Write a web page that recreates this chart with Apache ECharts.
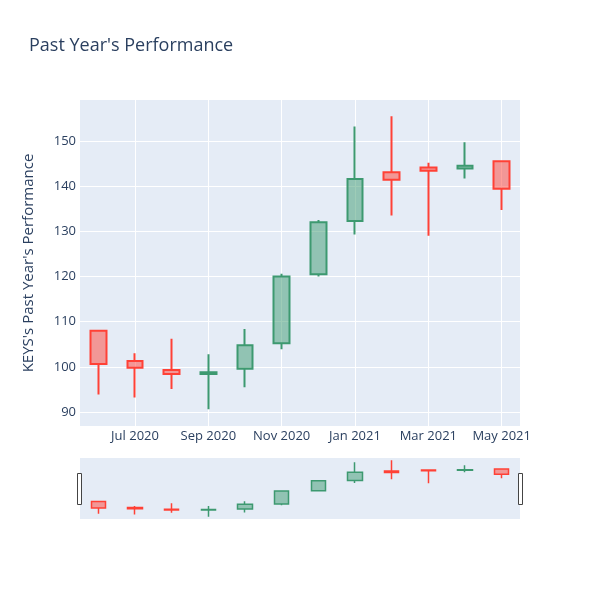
<!DOCTYPE html>
<html>
<head>
<meta charset="utf-8">
<script src="https://cdn.jsdelivr.net/npm/echarts@6/dist/echarts.min.js"></script>
<style>html,body{margin:0;padding:0;background:#fff}#c{width:600px;height:600px}</style>
</head>
<body>
<div id="c"></div>
<script>
const dates = ['2020-06-01','2020-07-01','2020-08-01','2020-09-01','2020-10-01','2020-11-01','2020-12-01','2021-01-01','2021-02-01','2021-03-01','2021-04-01','2021-05-01'];
const openVals  = [108.0, 101.3, 99.3, 98.4, 99.6, 105.2, 120.5, 132.3, 143.1, 144.1, 143.9, 145.5];
const closeVals = [100.6, 99.8, 98.4, 98.8, 104.8, 120.0, 132.0, 141.6, 141.4, 143.4, 144.5, 139.4];
const lowVals   = [93.9, 93.2, 95.1, 90.6, 95.5, 103.9, 120.0, 129.3, 133.5, 129.0, 141.7, 134.7];
const highVals  = [108.0, 103.0, 106.2, 102.8, 108.4, 120.6, 132.5, 153.2, 155.5, 145.2, 149.7, 145.5];
const monthNames = ['Jan','Feb','Mar','Apr','May','Jun','Jul','Aug','Sep','Oct','Nov','Dec'];

const candleData = dates.map((d, i) => [openVals[i], closeVals[i], lowVals[i], highVals[i]]);
const fmt = d => { const p = d.split('-'); return monthNames[+p[1] - 1] + ' ' + p[0]; };
const font = '"Open Sans", verdana, arial, sans-serif';
const txt = '#2a3f5f';
const yMin = 86.9, yMax = 159.07;

const chart = echarts.init(document.getElementById('c'), null, {renderer: 'canvas'});
chart.setOption({
  animation: false,
  backgroundColor: '#fff',
  title: {
    text: "Past Year's Performance", left: 24, top: 32,
    textStyle: {fontFamily: font, fontSize: 18, fontWeight: 'normal', color: txt}
  },
  grid: [
    {left: 80, right: 80, top: 100, height: 326, backgroundColor: '#E5ECF6', show: true, borderWidth: 0},
    {left: 80, right: 80, top: 458, height: 61, backgroundColor: '#E5ECF6', show: true, borderWidth: 0}
  ],
  xAxis: [
    {
      type: 'category', data: dates, gridIndex: 0, boundaryGap: true,
      axisLine: {show: false}, axisTick: {show: false, alignWithLabel: true},
      axisLabel: {
        interval: (i) => i % 2 === 1, formatter: fmt, margin: 4,
        fontFamily: font, fontSize: 13, color: txt
      },
      splitLine: {show: true, alignWithLabel: true, interval: (i) => i % 2 === 1, lineStyle: {color: '#fff', width: 1}}
    },
    {
      type: 'category', data: dates, gridIndex: 1, boundaryGap: true,
      axisLine: {show: false}, axisTick: {show: false}, axisLabel: {show: false}, splitLine: {show: false}
    }
  ],
  yAxis: [
    {
      type: 'value', gridIndex: 0, min: yMin, max: yMax, splitNumber: 6,
      name: "KEYS's Past Year's Performance", nameLocation: 'middle', nameGap: 44,
      nameTextStyle: {fontFamily: font, fontSize: 15, color: txt},
      axisLine: {show: false}, axisTick: {show: false},
      axisLabel: {
        showMinLabel: false, showMaxLabel: false, margin: 4,
        fontFamily: font, fontSize: 13, color: txt
      },
      splitLine: {show: true, showMinLine: false, showMaxLine: false, lineStyle: {color: '#fff', width: 1}}
    },
    {
      type: 'value', gridIndex: 1, min: 88, max: 158,
      axisLine: {show: false}, axisTick: {show: false}, axisLabel: {show: false}, splitLine: {show: false}
    }
  ],
  series: [
    {
      type: 'candlestick', xAxisIndex: 0, yAxisIndex: 0, data: candleData, barWidth: 16,
      itemStyle: {
        color: 'rgba(61,153,112,0.5)', color0: 'rgba(255,65,54,0.5)',
        borderColor: '#3D9970', borderColor0: '#FF4136', borderWidth: 2
      }
    },
    {
      type: 'candlestick', xAxisIndex: 1, yAxisIndex: 1, data: candleData, barWidth: 15,
      itemStyle: {
        color: 'rgba(61,153,112,0.5)', color0: 'rgba(255,65,54,0.5)',
        borderColor: '#3D9970', borderColor0: '#FF4136', borderWidth: 1.5
      }
    }
  ],
  graphic: [
    {type: 'rect', shape: {x: 77.5, y: 473.5, width: 4, height: 31}, style: {fill: '#fff', stroke: '#444', lineWidth: 1}},
    {type: 'rect', shape: {x: 518.5, y: 473.5, width: 4, height: 31}, style: {fill: '#fff', stroke: '#444', lineWidth: 1}}
  ]
});
</script>
</body>
</html>
